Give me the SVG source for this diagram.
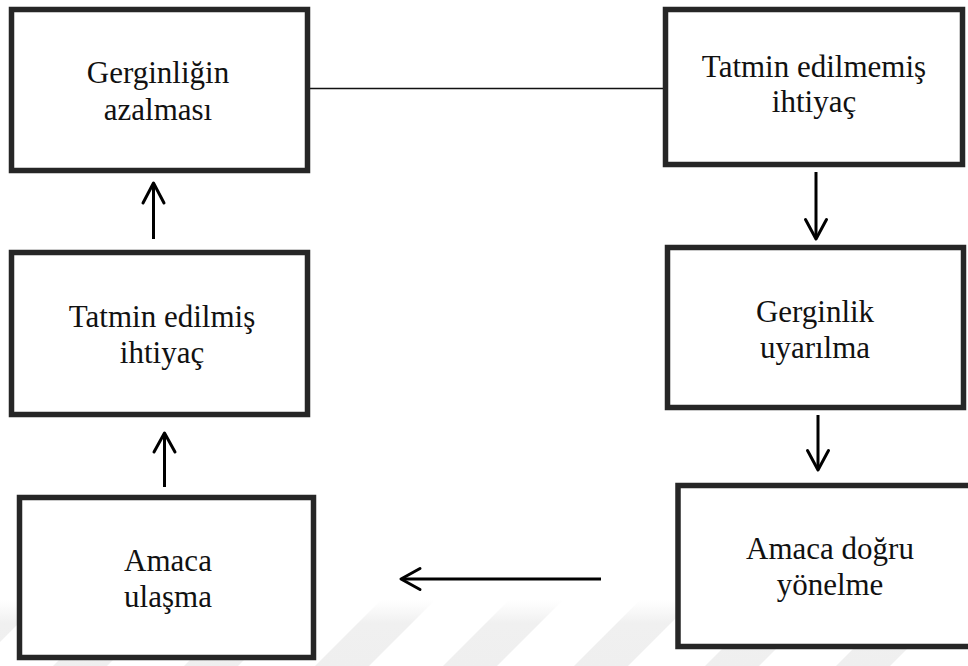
<svg xmlns="http://www.w3.org/2000/svg" width="968" height="666" viewBox="0 0 968 666">
  <defs>
    <style>
      .box { fill: #ffffff; stroke: #262626; stroke-width: 5.5; }
      .label { font-family: "Liberation Serif", "Times New Roman", serif; font-size: 31px; fill: #111111; text-anchor: middle; }
      .wire { fill: none; stroke: #000000; stroke-width: 3; }
      .head { fill: none; stroke: #000000; stroke-width: 3; stroke-linecap: round; stroke-linejoin: round; }
      .link { fill: none; stroke: #111111; stroke-width: 1.5; }
      .band { fill: url(#bandFade); }
    </style>
    <linearGradient id="bandFade" x1="0" y1="0" x2="0" y2="1">
      <stop offset="0" stop-color="#f2f2f2" stop-opacity="0"/>
      <stop offset="0.35" stop-color="#f0f0f0" stop-opacity="1"/>
      <stop offset="1" stop-color="#efefef" stop-opacity="1"/>
    </linearGradient>
  </defs>

  <rect x="0" y="0" width="968" height="666" fill="#ffffff"/>

  <!-- faint diagonal bands along the bottom edge -->
  <g id="bands">
    <polygon class="band" points="-12,600 42,600 -24,666 -78,666"/>
    <polygon class="band" points="119,600 173,600 107,666 53,666"/>
    <polygon class="band" points="250,600 304,600 238,666 184,666"/>
    <polygon class="band" points="381,600 435,600 369,666 315,666"/>
    <polygon class="band" points="509,600 563,600 497,666 443,666"/>
    <polygon class="band" points="640,600 694,600 628,666 574,666"/>
    <polygon class="band" points="771,600 825,600 759,666 705,666"/>
    <polygon class="band" points="902,600 956,600 890,666 836,666"/>
  </g>

  <!-- connectors -->
  <g id="connectors">
    <line class="link" x1="310" y1="88.5" x2="664" y2="88.5"/>
    <!-- satisfied need -> tension reduction -->
    <line class="wire" x1="153.5" y1="239" x2="153.5" y2="184"/>
    <polyline class="head" points="143,203 153.5,183 164,203"/>
    <!-- goal reached -> satisfied need -->
    <line class="wire" x1="164.5" y1="487" x2="164.5" y2="434"/>
    <polyline class="head" points="154,452 164.5,433 175,452"/>
    <!-- unmet need -> tension arousal -->
    <line class="wire" x1="816" y1="172" x2="816" y2="238"/>
    <polyline class="head" points="805.5,219.5 816,239 826.5,219.5"/>
    <!-- tension arousal -> goal-directed behaviour -->
    <line class="wire" x1="818" y1="415" x2="818" y2="469"/>
    <polyline class="head" points="807.5,450.5 818,470 828.5,450.5"/>
    <!-- goal-directed behaviour -> goal reached -->
    <line class="wire" x1="601" y1="579" x2="402" y2="579"/>
    <polyline class="head" points="420,568.5 401,579 420,589.5"/>
  </g>

  <g id="node-gerginligin-azalmasi">
    <rect class="box" x="11.5" y="9.5" width="296" height="161"/>
    <text class="label" x="158" y="83">Gerginliğin</text>
    <text class="label" x="158" y="120">azalması</text>
  </g>

  <g id="node-tatmin-edilmemis">
    <rect class="box" x="665.5" y="9.5" width="297" height="155"/>
    <text class="label" x="814" y="77">Tatmin edilmemiş</text>
    <text class="label" x="814" y="112">ihtiyaç</text>
  </g>

  <g id="node-tatmin-edilmis">
    <rect class="box" x="11.5" y="252.5" width="296" height="162"/>
    <text class="label" x="162" y="327">Tatmin edilmiş</text>
    <text class="label" x="162" y="363">ihtiyaç</text>
  </g>

  <g id="node-gerginlik-uyarilma">
    <rect class="box" x="667.5" y="247.5" width="296" height="160"/>
    <text class="label" x="815" y="322">Gerginlik</text>
    <text class="label" x="815" y="358">uyarılma</text>
  </g>

  <g id="node-amaca-ulasma">
    <rect class="box" x="19.5" y="497.5" width="294" height="160"/>
    <text class="label" x="168" y="571">Amaca</text>
    <text class="label" x="168" y="607">ulaşma</text>
  </g>

  <g id="node-amaca-dogru-yonelme">
    <rect class="box" x="678" y="485.5" width="310" height="161"/>
    <text class="label" x="830" y="559">Amaca doğru</text>
    <text class="label" x="830" y="595">yönelme</text>
  </g>
</svg>
